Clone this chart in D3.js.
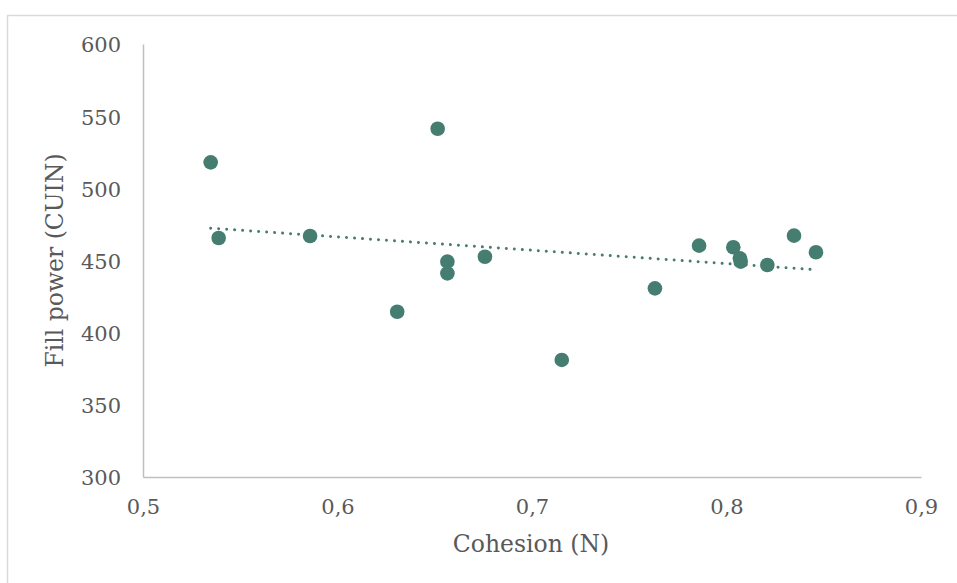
<!DOCTYPE html>
<html>
<head>
<meta charset="utf-8">
<script src="https://cdn.jsdelivr.net/npm/d3@7"></script>
<style>
  html, body { margin: 0; padding: 0; background: #fff; }
  svg { display: block; font-family: "DejaVu Serif", "Liberation Serif", serif; }
</style>
</head>
<body>
<svg id="chart" width="957" height="583"></svg>
<script>
// Cohesion (N) against fill power (CUIN) for each sample
const cohesion = [0.5348, 0.5389, 0.5859, 0.6307, 0.6515, 0.6565, 0.6565, 0.6758, 0.7153,
                  0.7632, 0.7859, 0.8035, 0.8069, 0.8073, 0.8210, 0.8347, 0.8460];
const fillPower = [518.0, 465.6, 467.0, 414.5, 541.3, 449.2, 441.1, 452.6, 381.1,
                   430.7, 460.3, 459.2, 451.5, 449.2, 446.9, 467.2, 455.7];
const xTicks = [0.5, 0.6, 0.7, 0.8, 0.9];
const yTicks = [300, 350, 400, 450, 500, 550, 600];

const colors = { point: "#467d71", axis: "#bfbfbf", text: "#595959", frame: "#d9d9d9" };

const svg = d3.select("#chart");
const plot = { left: 143, right: 921, top: 44, bottom: 477 };

// Chart frame
svg.append("rect")
  .attr("x", 7.5).attr("y", 15.5)
  .attr("width", 960).attr("height", 600)
  .attr("fill", "none").attr("stroke", colors.frame).attr("stroke-width", 1.5);

const x = d3.scaleLinear().domain([0.5, 0.9]).range([plot.left, plot.right]);
const y = d3.scaleLinear().domain([300, 600]).range([plot.bottom, plot.top]);

const fmt = v => d3.format(".1f")(v).replace(".", ",");

// X axis
const xAxis = svg.append("g")
  .attr("transform", `translate(0,${plot.bottom})`)
  .call(d3.axisBottom(x).tickValues(xTicks).tickFormat(fmt).tickSize(0).tickPadding(22));
xAxis.select(".domain").attr("stroke", colors.axis).attr("stroke-width", 1.5);
xAxis.selectAll("text").attr("fill", colors.text).attr("font-size", 21)
  .attr("font-family", "DejaVu Serif, serif");

// Y axis
const yAxis = svg.append("g")
  .attr("transform", `translate(${plot.left},0)`)
  .call(d3.axisLeft(y).tickValues(yTicks).tickFormat(d3.format("d")).tickSize(0).tickPadding(22));
yAxis.select(".domain").attr("stroke", colors.axis).attr("stroke-width", 1.5);
yAxis.selectAll("text").attr("fill", colors.text).attr("font-size", 21)
  .attr("font-family", "DejaVu Serif, serif").attr("dy", "0.38em");

// Axis titles
svg.append("text")
  .attr("x", 531).attr("y", 552)
  .attr("text-anchor", "middle").attr("fill", colors.text).attr("font-size", 23.5)
  .text("Cohesion (N)");
svg.append("text")
  .attr("transform", `translate(63,${(plot.top + plot.bottom) / 2}) rotate(-90)`)
  .attr("text-anchor", "middle").attr("fill", colors.text).attr("font-size", 23.5)
  .text("Fill power (CUIN)");

// Linear trend line (least squares)
const data = cohesion.map((c, i) => ({ c, f: fillPower[i] }));
const mx = d3.mean(cohesion), my = d3.mean(fillPower);
const slope = d3.sum(data, d => (d.c - mx) * (d.f - my)) / d3.sum(data, d => (d.c - mx) ** 2);
const intercept = my - slope * mx;
const [cMin, cMax] = d3.extent(cohesion);
svg.append("path")
  .datum([cMin, cMax])
  .attr("d", d3.line().x(d => x(d)).y(d => y(intercept + slope * d)))
  .attr("fill", "none").attr("stroke", colors.point).attr("stroke-width", 3)
  .attr("stroke-linecap", "round").attr("stroke-dasharray", "0.01 8");

// Points
svg.append("g").selectAll("circle")
  .data(data)
  .join("circle")
  .attr("cx", d => x(d.c)).attr("cy", d => y(d.f))
  .attr("r", 7.3).attr("fill", colors.point);
</script>
</body>
</html>
